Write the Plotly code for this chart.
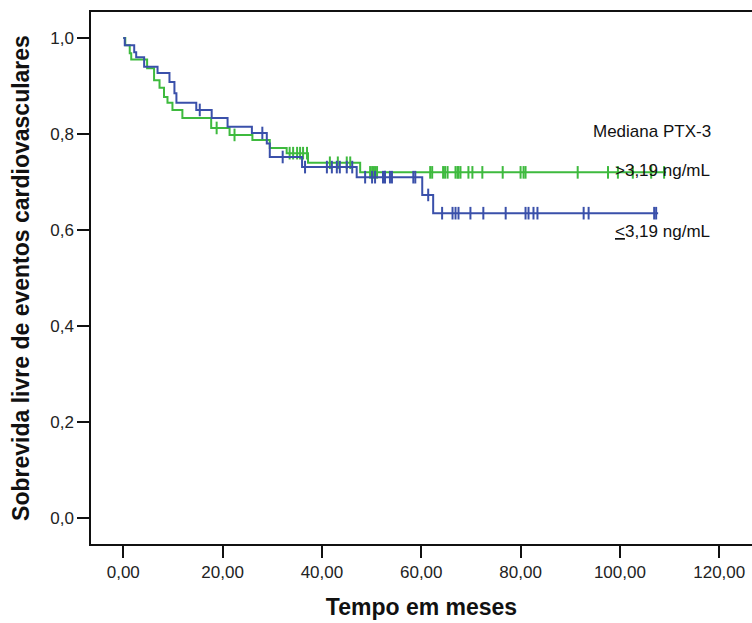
import plotly.graph_objects as go

# ---- data ----
blue_event_t = [0.3, 2.2, 2.6, 4.2, 6.9, 9.3, 10.3, 10.7, 14.7, 17.8, 21.0, 25.9, 28.9, 29.5, 36.0, 47.0, 60.2, 62.4]
blue_surv = [0.985, 0.97, 0.96, 0.94, 0.927, 0.908, 0.885, 0.865, 0.85, 0.833, 0.815, 0.802, 0.78, 0.752, 0.731, 0.71, 0.673, 0.635]
blue_end = 107.7
blue_censor = [15.4, 28.0, 32.1, 36.6, 41.0, 42.0, 43.0, 43.6, 45.0, 46.1, 48.7, 50.1, 50.7, 52.3, 52.7,
               53.7, 54.1, 58.4, 58.8, 61.4, 64.2, 66.3, 66.9, 67.5, 69.9, 72.5, 77.0, 81.0, 81.6, 82.6,
               83.4, 92.7, 93.7, 106.9, 107.3]

green_event_t = [0.4, 1.3, 1.6, 4.8, 6.2, 7.3, 8.2, 8.9, 9.9, 11.9, 17.7, 21.4, 26.0, 29.5, 32.9, 37.2, 47.7]
green_surv = [0.985, 0.968, 0.955, 0.937, 0.912, 0.896, 0.877, 0.865, 0.85, 0.833, 0.8125, 0.798, 0.7875, 0.771, 0.76, 0.74, 0.72]
green_end = 109.3
green_censor = [18.8, 22.4, 33.5, 34.2, 35.0, 35.6, 36.2, 37.0, 41.6, 43.2, 45.0, 45.7, 49.7, 50.1, 50.4,
                50.7, 51.1, 61.8, 62.2, 64.4, 64.8, 65.3, 66.9, 67.3, 67.5, 67.9, 69.5, 70.3, 72.3, 76.4,
                80.0, 80.6, 81.0, 91.5, 97.6, 99.6, 102.6, 106.3, 108.9]

x_ticks = [0, 20, 40, 60, 80, 100, 120]
x_tick_labels = ["0,00", "20,00", "40,00", "60,00", "80,00", "100,00", "120,00"]
y_ticks = [0, 0.2, 0.4, 0.6, 0.8, 1.0]
y_tick_labels = ["0,0", "0,2", "0,4", "0,6", "0,8", "1,0"]

GREEN = "rgb(62,186,62)"
BLUE = "rgb(58,80,170)"


def step_xy(times, surv, end):
    xs = [0.0] + list(times) + [end]
    ys = [1.0] + list(surv) + [surv[-1]]
    return xs, ys


def surv_at(t, times, surv):
    s = 1.0
    for ti, si in zip(times, surv):
        if ti <= t:
            s = si
    return s


fig = go.Figure()
for times, surv, end, cens, col in [
    (green_event_t, green_surv, green_end, green_censor, GREEN),
    (blue_event_t, blue_surv, blue_end, blue_censor, BLUE),
]:
    xs, ys = step_xy(times, surv, end)
    fig.add_trace(go.Scatter(x=xs, y=ys, mode="lines", line=dict(color=col, width=2, shape="hv"),
                             showlegend=False, hoverinfo="skip"))
    fig.add_trace(go.Scatter(x=cens, y=[surv_at(t, times, surv) for t in cens], mode="markers",
                             marker=dict(symbol="line-ns", size=9, line=dict(color=col, width=2)),
                             showlegend=False, hoverinfo="skip"))

font_tick = dict(family="Liberation Sans, Arial", size=17, color="#222")
title_font = dict(family="Liberation Sans, Arial", size=23, color="#111")
fig.update_layout(
    width=752, height=623,
    margin=dict(l=91, r=0, t=12, b=79),
    paper_bgcolor="white", plot_bgcolor="white",
    font=dict(family="Liberation Sans, Arial", color="#111"),
    xaxis=dict(range=[-6.5, 126.6], tickvals=x_ticks, ticktext=x_tick_labels, showgrid=False,
               zeroline=False, showline=True, linecolor="#111", linewidth=1.5, mirror=True,
               ticks="outside", ticklen=12, tickwidth=1.5, tickcolor="#111", tickfont=font_tick,
               title=dict(text="<b>Tempo em meses</b>", font=title_font, standoff=18)),
    yaxis=dict(range=[-0.054, 1.054], tickvals=y_ticks, ticktext=y_tick_labels, showgrid=False,
               zeroline=False, showline=True, linecolor="#111", linewidth=1.5,
               ticks="outside", ticklen=12, tickwidth=1.5, tickcolor="#111", tickfont=font_tick,
               title=dict(text="<b>Sobrevida livre de eventos cardiovasculares</b>",
                          font=title_font, standoff=14)),
)

ann_font = dict(family="Liberation Sans, Arial", size=17, color="#111")
fig.add_annotation(x=118.8, y=0.806, xref="x", yref="y", text="Mediana PTX-3", showarrow=False,
                   xanchor="right", yanchor="middle", font=ann_font)
fig.add_annotation(x=98.6, y=0.723, xref="x", yref="y", text="&gt;3,19 ng/mL", showarrow=False,
                   xanchor="left", yanchor="middle", font=ann_font)
fig.add_annotation(x=98.6, y=0.596, xref="x", yref="y",
                   text="<span style='text-decoration:underline'>&lt;</span>3,19 ng/mL", showarrow=False,
                   xanchor="left", yanchor="middle", font=ann_font)

fig.write_html("out.html")
